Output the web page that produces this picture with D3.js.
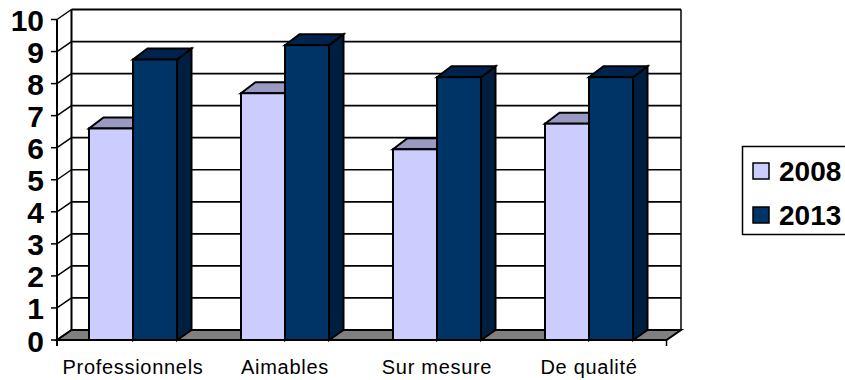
<!DOCTYPE html>
<html>
<head>
<meta charset="utf-8">
<script src="https://cdn.jsdelivr.net/npm/d3@7/dist/d3.min.js"></script>
<style>
html,body{margin:0;padding:0;background:#fff;overflow:hidden}
svg{display:block}
text{font-family:"Liberation Sans",Arial,sans-serif;fill:#000}
</style>
</head>
<body>
<svg id="chart" width="845" height="380"></svg>
<script>
const categories = ["Professionnels", "Aimables", "Sur mesure", "De qualité"];
const seriesNames = ["2008", "2013"];
const values2008 = [6.6, 7.7, 5.95, 6.75];
const values2013 = [8.75, 9.2, 8.2, 8.2];
const yTicks = [0, 1, 2, 3, 4, 5, 6, 7, 8, 9, 10];

const fronts = ["#ccccff", "#003366"];
const tops = ["#9999c2", "#00234d"];
const sides = ["#8f8fb3", "#001f40"];

const svg = d3.select("#chart");
const depthX = 14.5, depthY = -10, barDepthY = -11;
const floorRight = 666.5;
const x = d3.scaleBand().domain(categories).range([57, 665]);
const y = d3.scaleLinear().domain([0, 10]).range([340, 19.5]);
const barW = 44;

const back = (px, py) => [px + depthX, py + depthY];
const barBack = (px, py) => [px + depthX, py + barDepthY];
const poly = pts => pts.map(p => p.join(",")).join(" ");

// Floor of the 3D box
svg.append("polygon")
  .attr("points", poly([[57, y(0)], [floorRight, y(0)], back(floorRight, y(0)), back(57, y(0))]))
  .attr("fill", "#808080").attr("stroke", "#000").attr("stroke-width", 2);

// Back wall gridlines, their return along the left wall, value ticks and labels
const grid = svg.append("g");
yTicks.forEach(t => {
  const [bx, by] = back(57, y(t));
  const [rx] = back(floorRight, y(t));
  grid.append("line").attr("x1", bx).attr("x2", rx).attr("y1", by).attr("y2", by)
    .attr("stroke", "#000").attr("stroke-width", t === 10 || t === 0 ? 2.2 : 1.7);
  grid.append("line").attr("x1", 57).attr("y1", y(t)).attr("x2", bx).attr("y2", by)
    .attr("stroke", "#000").attr("stroke-width", 1.5);
  grid.append("line").attr("x1", 51).attr("x2", 57).attr("y1", y(t)).attr("y2", y(t))
    .attr("stroke", "#000").attr("stroke-width", 1.5);
  svg.append("text").attr("x", 44).attr("y", y(t) + 11.5).attr("text-anchor", "end")
    .attr("font-size", 30).attr("font-weight", "bold").text(t);
});

// Wall edges and the value axis
const [wallX, wallBottom] = back(57, y(0));
const [, wallTop] = back(57, y(10));
const [wallRight] = back(floorRight, y(0));
svg.append("line").attr("x1", wallX).attr("x2", wallX).attr("y1", wallTop).attr("y2", wallBottom).attr("stroke", "#000").attr("stroke-width", 2);
svg.append("line").attr("x1", wallRight).attr("x2", wallRight).attr("y1", wallTop).attr("y2", wallBottom).attr("stroke", "#000").attr("stroke-width", 1.5);
svg.append("line").attr("x1", 57).attr("x2", 57).attr("y1", y(10)).attr("y2", 346).attr("stroke", "#000").attr("stroke-width", 2);

// Category axis end tick
svg.append("line").attr("x1", floorRight).attr("x2", floorRight).attr("y1", y(0)).attr("y2", 346)
  .attr("stroke", "#000").attr("stroke-width", 1.5);

// Bars: side, top and front faces, series by series so the dark bar overlaps
[values2008, values2013].forEach((vals, s) => {
  vals.forEach((v, i) => {
    const cx = x(categories[i]) + x.bandwidth() / 2;
    const x0 = cx - barW + s * barW, x1 = x0 + barW;
    const yt = y(v), yb = y(0);
    const g = svg.append("g").attr("class", "bar");
    g.append("polygon").attr("points", poly([[x1, yb], [x1, yt], barBack(x1, yt), back(x1, yb)]))
      .attr("fill", sides[s]).attr("stroke", "#000").attr("stroke-width", 2);
    g.append("polygon").attr("points", poly([[x0, yt], [x1, yt], barBack(x1, yt), barBack(x0, yt)]))
      .attr("fill", tops[s]).attr("stroke", "#000").attr("stroke-width", 2);
    g.append("rect").attr("x", x0).attr("y", yt).attr("width", barW).attr("height", yb - yt)
      .attr("fill", fronts[s]).attr("stroke", "#000").attr("stroke-width", 2);
  });
});

// Category labels
categories.forEach(c => {
  svg.append("text").attr("x", x(c) + x.bandwidth() / 2).attr("y", 374)
    .attr("text-anchor", "middle").attr("font-size", 20).attr("letter-spacing", 0.7).text(c);
});

// Legend box, running off the right edge of the page
svg.append("rect").attr("x", 742.5).attr("y", 146.5).attr("width", 110).attr("height", 88)
  .attr("fill", "#fff").attr("stroke", "#000").attr("stroke-width", 1.5);
seriesNames.forEach((n, i) => {
  const ly = 171 + i * 44;
  svg.append("rect").attr("x", 753).attr("y", ly - 8).attr("width", 16).attr("height", 16)
    .attr("fill", fronts[i]).attr("stroke", "#000").attr("stroke-width", 1.5);
  svg.append("text").attr("x", 779).attr("y", ly + 10).attr("font-size", 28)
    .attr("font-weight", "bold").text(n);
});
</script>
</body>
</html>
